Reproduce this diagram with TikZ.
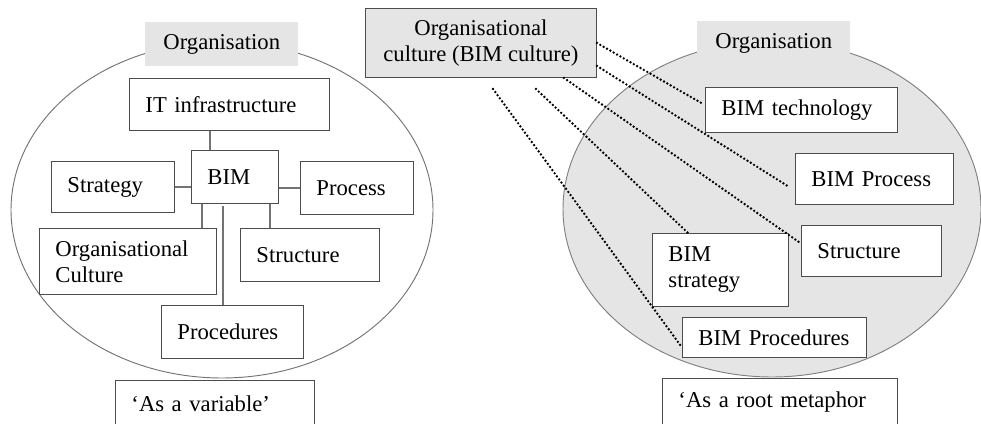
\documentclass[tikz,border=0pt]{standalone}
\usepackage{fontspec}
\setmainfont{Liberation Serif}
\usepackage{tikz}
\usetikzlibrary{shapes, calc}
\definecolor{lightgrey}{rgb}{0.9, 0.9, 0.9}
\definecolor{boxline}{rgb}{0.3, 0.3, 0.3}
\definecolor{linkgrey}{rgb}{0.45, 0.45, 0.45}

\begin{document}
\begin{tikzpicture}[x=0.75pt, y=-0.75pt, every node/.style={font=\fontsize{17}{19.5}\selectfont}]
\tikzstyle{box}=[draw=boxline, line width=0.7pt, fill=white, anchor=north west, align=left, inner xsep=12pt, inner ysep=0pt]
\tikzstyle{tag}=[fill=lightgrey, anchor=north west, minimum width=114.75pt, minimum height=33pt, inner sep=0pt]
\tikzstyle{link}=[draw=linkgrey, line width=1pt]
\tikzstyle{dots}=[line width=2pt, dash pattern=on 0pt off 2.9pt, line cap=round]

\useasboundingbox (0,0) rectangle (981,424);

%% left: as a variable
\node (ellL) at (222,210) [ellipse, draw=linkgrey, line width=0.7pt, minimum width=316.5pt, minimum height=252pt, inner sep=0pt] {};
\node (orgL) at (145,22) [tag] {Organisation};

\node (itinf) at (129,78) [box, text width=126pt, minimum height=39pt] {IT infrastructure};
\node (bim) at (191,150) [box, text width=41.25pt, minimum height=39.75pt] {BIM};
\node (strat) at (51,161) [box, text width=68.25pt, minimum height=38.25pt] {Strategy};
\node (proc) at (300,161) [box, text width=60.75pt, minimum height=39.75pt] {Process};
\node (orgcult) at (39,228) [box, text width=108.75pt, minimum height=49.5pt] {Organisational\\Culture};
\node (struct) at (240,228) [box, text width=80.25pt, minimum height=39.75pt] {Structure};
\node (procd) at (161,305) [box, text width=82.5pt, minimum height=39.75pt] {Procedures};
\node (asvar) at (115,380) [box, text width=125.25pt, minimum height=34.5pt] {‘As a variable’};

\draw [link] ([xshift=60.75pt]itinf.south west) -- ([xshift=14.25pt]bim.north west);
\draw [link] (strat.east) -- (strat.east -| bim.west);
\draw [link] (proc.west) -- (proc.west -| bim.east);
\draw [link] ([xshift=8.25pt]bim.south west) -- ([xshift=122.25pt]orgcult.north west);
\draw [link] ([xshift=24pt, yshift=-1.5pt]bim.south west) -- ([xshift=46.5pt]procd.north west);
\draw [link] ([xshift=59.25pt]bim.south west) -- ([xshift=22.5pt]struct.north west);

%% right: as a root metaphor
\node (ellR) at (772,209) [ellipse, draw=gray, fill=lightgrey, line width=0.7pt, minimum width=313.5pt, minimum height=252pt, inner sep=0pt] {};
\node (orgR) at (697,21) [tag] {Organisation};

\node (cult) at (365,8) [draw=boxline, line width=0.7pt, fill=lightgrey, anchor=north west, align=center, minimum width=173.25pt, minimum height=51.75pt, inner sep=0pt] {Organisational\\culture (BIM culture)};

\node (tech) at (705,87) [box, text width=120pt, minimum height=33.75pt] {BIM technology};
\node (bproc) at (795,153) [box, text width=94.5pt, minimum height=38.25pt] {BIM Process};
\node (rstruct) at (801,225) [box, text width=81pt, minimum height=38.25pt] {Structure};
\node (bstrat) at (652,233) [box, text width=78pt, minimum height=54.75pt] {BIM\\strategy};
\node (bprocd) at (682,317) [box, text width=114pt, minimum height=30pt] {BIM Procedures};
\node (root) at (662,378) [box, text width=152.25pt, minimum height=36pt] {‘As a root metaphor};

\draw [dots] (cult.east) -- ([xshift=-1.5pt, yshift=4.5pt]tech.west);
\draw [dots] ([yshift=9pt]cult.south east) -- ([xshift=-6pt, yshift=-5pt]bproc.west);
\draw [dots] ([xshift=-24.75pt]cult.south east) -- ([yshift=5.6pt]rstruct.west);
\draw [dots] ([xshift=-45.75pt, yshift=-8.25pt]cult.south east) -- ([xshift=27pt]bstrat.north west);
\draw [dots] ([xshift=96pt, yshift=-8.25pt]cult.south west) -- ([yshift=-7.5pt]bprocd.west);
\end{tikzpicture}
\end{document}
